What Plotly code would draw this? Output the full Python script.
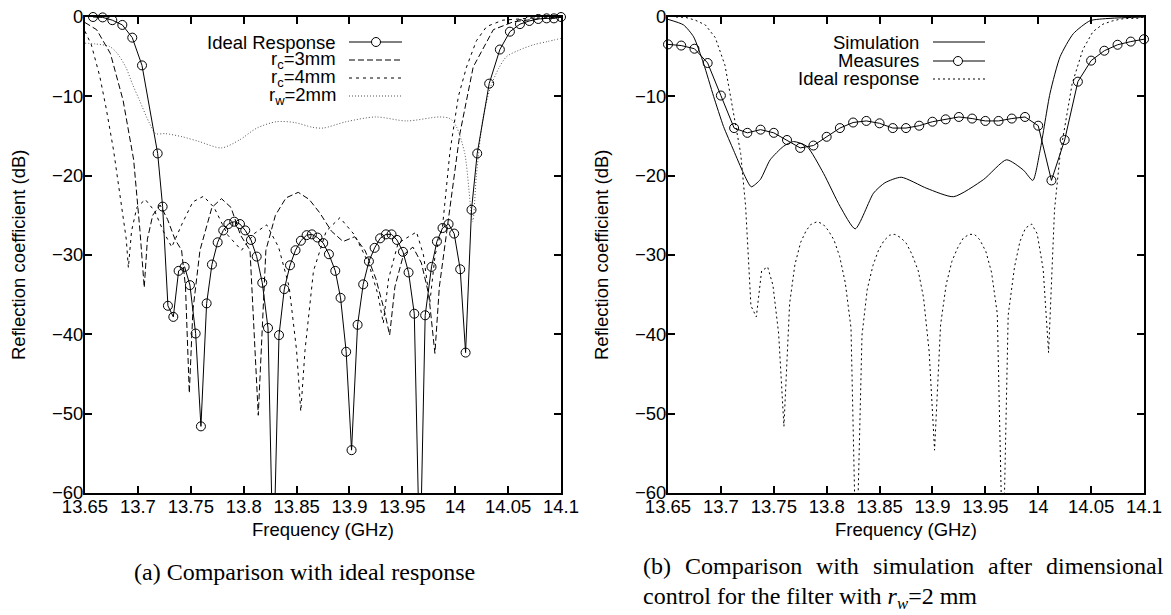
import plotly.graph_objects as go

# ---------------- data ----------------
ideal_freq = [13.6576, 13.6667, 13.6758, 13.6853, 13.6947, 13.7039, 13.7187, 13.7234, 13.7284, 13.7335,
              13.7385, 13.7442, 13.7492, 13.7546, 13.7596, 13.765, 13.770, 13.7754, 13.7807, 13.7855,
              13.7911, 13.7965, 13.8015, 13.8069, 13.8123, 13.8176, 13.823, 13.828, 13.8334, 13.8384,
              13.8438, 13.849, 13.8541, 13.8595, 13.8645, 13.8698, 13.8752, 13.8806, 13.8866, 13.8916,
              13.8969, 13.902, 13.9077, 13.913, 13.9184, 13.9238, 13.929, 13.9345, 13.9398, 13.9449,
              13.9506, 13.9559, 13.9613, 13.9666, 13.9716, 13.9776, 13.9827, 13.988, 13.9937, 13.999,
              14.0047, 14.0098, 14.0154, 14.0208, 14.0321, 14.0422, 14.0517, 14.0612, 14.070, 14.0785,
              14.0864, 14.0933, 14.1]
ideal_db = [0, -0.05, -0.4, -1.0, -2.6, -6.1, -17.2, -23.9, -36.4, -37.8,
            -32.0, -31.5, -33.8, -39.9, -51.6, -36.1, -31.2, -28.4, -26.9, -26.1,
            -25.8, -26.1, -26.9, -28.1, -30.2, -33.5, -39.2, -70, -40.1, -34.3,
            -31.3, -29.4, -28.2, -27.5, -27.4, -27.8, -28.5, -29.9, -32.0, -35.4,
            -42.2, -54.6, -38.8, -33.7, -30.8, -29.1, -27.9, -27.4, -27.4, -28.1,
            -29.6, -32.2, -37.4, -70, -37.6, -31.5, -28.3, -26.6, -26.1, -27.3,
            -31.8, -42.3, -24.3, -17.2, -8.4, -4.1, -1.85, -0.9, -0.5, -0.25,
            -0.17, -0.17, 0]

rc3_freq = [13.650, 13.661, 13.674, 13.686, 13.696, 13.702, 13.706, 13.709, 13.714, 13.721,
            13.728, 13.735, 13.7413, 13.745, 13.7486, 13.752, 13.7587, 13.770, 13.779, 13.788,
            13.797, 13.806, 13.8138, 13.821, 13.830, 13.840, 13.8516, 13.862, 13.872, 13.883,
            13.894, 13.905, 13.915, 13.925, 13.933, 13.938, 13.943, 13.951, 13.960, 13.968,
            13.975, 13.9808, 13.985, 13.9935, 14.0044, 14.017, 14.036, 14.055, 14.080, 14.100]
rc3_db = [-0.7, -1.6, -4.6, -10.5, -18.0, -27.0, -34.1, -28.0, -25.0, -23.7,
          -25.5, -28.0, -29.4, -34.0, -47.4, -37.0, -29.4, -24.0, -22.9, -24.0,
          -27.5, -29.4, -50.2, -29.4, -25.0, -22.8, -22.1, -23.0, -24.7, -27.0,
          -28.3, -27.7, -29.5, -33.0, -37.0, -40.1, -34.0, -30.0, -29.0, -31.0,
          -35.0, -42.4, -34.0, -25.6, -14.7, -6.3, -1.6, -0.6, -0.2, -0.05]

rc4_freq = [13.650, 13.656, 13.664, 13.670, 13.677, 13.684, 13.689, 13.691, 13.694, 13.699,
            13.707, 13.716, 13.724, 13.732, 13.742, 13.752, 13.762, 13.772, 13.785, 13.798,
            13.810, 13.8217, 13.833, 13.843, 13.850, 13.854, 13.858, 13.866, 13.878, 13.891,
            13.905, 13.918, 13.927, 13.932, 13.937, 13.946, 13.9634, 13.970, 13.976, 13.981,
            13.988, 13.995, 14.003, 14.0107, 14.020, 14.0297, 14.045, 14.070, 14.100]
rc4_db = [-1.8, -3.5, -7.5, -11.5, -16.8, -23.0, -28.0, -31.6, -27.0, -24.0,
          -23.0, -24.5, -27.0, -29.0, -26.0, -23.3, -22.6, -24.0, -27.5, -29.4,
          -27.3, -26.2, -29.0, -34.0, -42.0, -49.7, -42.0, -32.0, -27.0, -25.3,
          -27.5, -31.0, -35.0, -38.6, -33.0, -28.5, -27.1, -30.0, -36.0, -30.0,
          -26.4, -17.0, -10.0, -6.3, -3.0, -1.2, -0.4, -0.15, -0.05]

rw2_freq = [13.650, 13.660, 13.673, 13.680, 13.6885, 13.695, 13.7015, 13.711, 13.717, 13.726,
            13.742, 13.758, 13.779, 13.796, 13.8125, 13.831, 13.848, 13.865, 13.875, 13.897,
            13.925, 13.954, 13.985, 13.995, 14.001, 14.009, 14.0165, 14.020, 14.026, 14.033,
            14.041, 14.0485, 14.060, 14.074, 14.087, 14.100]
rw2_db = [-3.3, -3.4, -3.7, -4.5, -6.3, -8.5, -10.5, -13.4, -14.7, -14.7,
          -15.1, -15.7, -16.5, -15.5, -14.0, -13.2, -13.3, -13.9, -14.0, -13.2,
          -12.6, -13.1, -12.6, -12.8, -13.8, -17.2, -25.8, -20.0, -13.0, -9.0,
          -6.5, -5.0, -4.2, -3.5, -3.1, -2.7]

sim_freq = [13.650, 13.6647, 13.6742, 13.6836, 13.6931, 13.7025, 13.712, 13.7214, 13.7287, 13.7372,
            13.7466, 13.7592, 13.7687, 13.7813, 13.797, 13.8128, 13.827, 13.8443, 13.855, 13.8705,
            13.8947, 13.920, 13.9482, 13.970, 13.986, 13.9949, 14.0018, 14.0112, 14.0207, 14.0332,
            14.049, 14.0679, 14.100]
sim_db = [-0.3, -1.0, -2.5, -5.85, -10.0, -13.8, -16.8, -19.7, -21.4, -20.5,
          -18.0, -16.3, -15.7, -16.3, -19.7, -23.9, -26.7, -22.2, -20.9, -20.2,
          -21.6, -22.65, -20.5, -18.0, -19.3, -20.6, -16.8, -9.6, -5.0, -2.1,
          -0.47, -0.17, 0.0]

meas_freq = [13.65, 13.6625, 13.675, 13.6875, 13.70, 13.7125, 13.725, 13.7375, 13.75, 13.7625,
             13.775, 13.7875, 13.80, 13.8125, 13.825, 13.8375, 13.85, 13.8625, 13.875, 13.8875,
             13.90, 13.9125, 13.925, 13.9375, 13.95, 13.9625, 13.975, 13.9875, 14.00, 14.0125,
             14.025, 14.0375, 14.05, 14.0625, 14.075, 14.0875, 14.10]
meas_db = [-3.45, -3.6, -4.0, -5.8, -9.9, -14.0, -14.6, -14.2, -14.6, -15.5,
           -16.5, -16.2, -15.1, -14.0, -13.3, -13.1, -13.4, -14.0, -14.0, -13.7,
           -13.2, -12.9, -12.6, -12.8, -13.1, -13.1, -12.8, -12.6, -13.7, -20.6,
           -15.5, -8.15, -5.5, -4.25, -3.5, -3.1, -2.8]

x_ticks = [13.65, 13.7, 13.75, 13.8, 13.85, 13.9, 13.95, 14.0, 14.05, 14.1]
x_ticktext = ["13.65", "13.7", "13.75", "13.8", "13.85", "13.9", "13.95", "14", "14.05", "14.1"]
y_ticks = [0, -10, -20, -30, -40, -50, -60]
y_ticktext = ["0", "\u221210", "\u221220", "\u221230", "\u221240", "\u221250", "\u221260"]

legend_a = ["Ideal Response", "r<sub>c</sub>=3mm", "r<sub>c</sub>=4mm", "r<sub>w</sub>=2mm"]
legend_b = ["Simulation", "Measures", "Ideal response"]
x_title = "Frequency (GHz)"
y_title = "Reflection coefficient (dB)"
caption_a = "(a) Comparison with ideal response"
caption_b1_words = ["(b)", "Comparison", "with", "simulation", "after", "dimensional"]
caption_b2 = "control for the filter with <i>r<sub>w</sub></i>=2 mm"

# ---------------- layout helpers ----------------
W, H = 1171, 615
def PX(x):
    return x / W
def PY(y):
    return 1 - y / H

SANS = "Liberation Sans, Arial, sans-serif"
SERIF = "Liberation Serif, Times New Roman, serif"
FS = 18.5
CAP = 24
LONG = "6px,3px"
SHORT = "3px,4px"
DOT = "1px,2px"
DOT_B = "2px,3px"

fig = go.Figure()

# ---- left panel
fig.add_trace(go.Scatter(x=rw2_freq, y=rw2_db, mode="lines", xaxis="x", yaxis="y",
                         line=dict(color="#555555", width=1, dash=DOT, shape="spline", smoothing=0.8)))
fig.add_trace(go.Scatter(x=rc4_freq, y=rc4_db, mode="lines", xaxis="x", yaxis="y",
                         line=dict(color="black", width=1, dash=SHORT)))
fig.add_trace(go.Scatter(x=rc3_freq, y=rc3_db, mode="lines", xaxis="x", yaxis="y",
                         line=dict(color="black", width=1, dash=LONG)))
fig.add_trace(go.Scatter(x=ideal_freq, y=ideal_db, mode="lines", xaxis="x", yaxis="y",
                         line=dict(color="black", width=1)))
vis_db = [v if v >= -60 else None for v in ideal_db]
fig.add_trace(go.Scatter(x=ideal_freq, y=vis_db, mode="markers", xaxis="x", yaxis="y", cliponaxis=False,
                         marker=dict(symbol="circle-open", size=9, color="black", line=dict(width=1))))

# ---- right panel
fig.add_trace(go.Scatter(x=ideal_freq, y=ideal_db, mode="lines", xaxis="x2", yaxis="y2",
                         line=dict(color="black", width=1, dash=DOT_B)))
fig.add_trace(go.Scatter(x=sim_freq, y=sim_db, mode="lines", xaxis="x2", yaxis="y2",
                         line=dict(color="black", width=1, shape="spline", smoothing=0.6)))
fig.add_trace(go.Scatter(x=meas_freq, y=meas_db, mode="lines+markers", xaxis="x2", yaxis="y2", cliponaxis=False,
                         line=dict(color="black", width=1),
                         marker=dict(symbol="circle-open", size=9, color="black", line=dict(width=1))))

axis_common = dict(showline=True, mirror="ticks", linecolor="black", linewidth=2,
                   ticks="inside", ticklen=7, tickwidth=1.5, tickcolor="black",
                   showgrid=False, zeroline=False, automargin=False,
                   tickfont=dict(family=SANS, size=FS, color="black"))
ydom = [PY(493), PY(17)]
fig.update_layout(
    width=W, height=H, margin=dict(l=0, r=0, t=0, b=0, pad=0, autoexpand=False),
    paper_bgcolor="white", plot_bgcolor="white", showlegend=False,
    xaxis=dict(domain=[PX(85), PX(561)], range=[13.65, 14.1], tickvals=x_ticks, ticktext=x_ticktext,
               anchor="y", ticklabelstandoff=-4, **axis_common),
    yaxis=dict(domain=ydom, range=[-60, 0], tickvals=y_ticks, ticktext=y_ticktext,
               anchor="x", ticklabelstandoff=-4, **axis_common),
    xaxis2=dict(domain=[PX(668), PX(1144)], range=[13.65, 14.1], tickvals=x_ticks, ticktext=x_ticktext,
                anchor="y2", ticklabelstandoff=-4, **axis_common),
    yaxis2=dict(domain=ydom, range=[-60, 0], tickvals=y_ticks, ticktext=y_ticktext,
                anchor="x2", ticklabelstandoff=-4, **axis_common),
)

ann = []
shapes = []
# axis titles
for cx, lx in [(323, 19), (906, 602)]:
    ann.append(dict(x=PX(cx), y=PY(529), xref="paper", yref="paper", text=x_title, showarrow=False,
                    font=dict(family=SANS, size=FS, color="black"), xanchor="center", yanchor="middle"))
    ann.append(dict(x=PX(lx), y=PY(255), xref="paper", yref="paper", text=y_title, showarrow=False,
                    textangle=-90, font=dict(family=SANS, size=FS, color="black"),
                    xanchor="center", yanchor="middle"))

# legend (a)
rows_a = [42, 60, 78, 96]
styles_a = [("black", None), ("black", LONG), ("black", SHORT), ("#555555", DOT)]
for name, yy, (col, dash) in zip(legend_a, rows_a, styles_a):
    ann.append(dict(x=PX(338), y=PY(yy), xref="paper", yref="paper", text=name, showarrow=False,
                    font=dict(family=SANS, size=FS, color="black"), xanchor="right", yanchor="middle"))
    ln = dict(color=col, width=1)
    if dash:
        ln["dash"] = dash
    shapes.append(dict(type="line", xref="paper", yref="paper", x0=PX(349), x1=PX(402),
                       y0=PY(yy), y1=PY(yy), line=ln))
shapes.append(dict(type="circle", xref="paper", yref="paper", xsizemode="pixel", ysizemode="pixel",
                   xanchor=PX(376), yanchor=PY(rows_a[0]), x0=-4.5, x1=4.5, y0=-4.5, y1=4.5,
                   line=dict(color="black", width=1), fillcolor="white"))

# legend (b)
rows_b = [42, 61, 79]
styles_b = [("black", None), ("black", None), ("black", DOT_B)]
for name, yy, (col, dash) in zip(legend_b, rows_b, styles_b):
    ann.append(dict(x=PX(921), y=PY(yy), xref="paper", yref="paper", text=name, showarrow=False,
                    font=dict(family=SANS, size=FS, color="black"), xanchor="right", yanchor="middle"))
    ln = dict(color=col, width=1)
    if dash:
        ln["dash"] = dash
    shapes.append(dict(type="line", xref="paper", yref="paper", x0=PX(933), x1=PX(985),
                       y0=PY(yy), y1=PY(yy), line=ln))
shapes.append(dict(type="circle", xref="paper", yref="paper", xsizemode="pixel", ysizemode="pixel",
                   xanchor=PX(958), yanchor=PY(rows_b[1]), x0=-4.5, x1=4.5, y0=-4.5, y1=4.5,
                   line=dict(color="black", width=1), fillcolor="white"))

# captions
ann.append(dict(x=PX(304), y=PY(572), xref="paper", yref="paper", text=caption_a, showarrow=False,
                font=dict(family=SERIF, size=CAP, color="black"), xanchor="center", yanchor="middle"))
word_x = [641, 683, 814, 871, 986, 1044]
for wtxt, wx in zip(caption_b1_words, word_x):
    ann.append(dict(x=PX(wx), y=PY(566), xref="paper", yref="paper", text=wtxt, showarrow=False,
                    font=dict(family=SERIF, size=CAP, color="black"), xanchor="left", yanchor="middle"))
ann.append(dict(x=PX(641), y=PY(598), xref="paper", yref="paper", text=caption_b2, showarrow=False,
                font=dict(family=SERIF, size=CAP, color="black"), xanchor="left", yanchor="middle"))

fig.update_layout(annotations=ann, shapes=shapes)
fig.write_html("out.html", config={"displayModeBar": False},
               post_script="document.body.style.margin='0';document.body.style.overflow='hidden';")
